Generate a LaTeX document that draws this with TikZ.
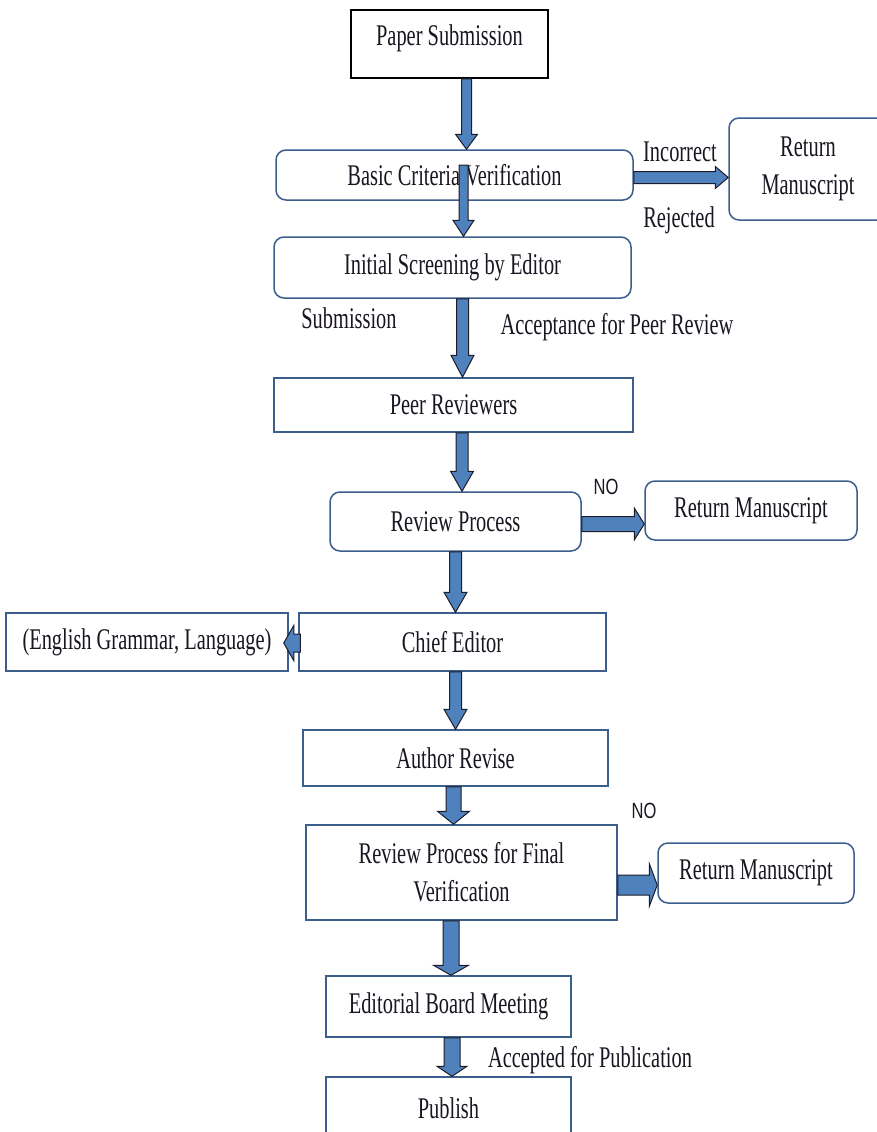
\documentclass[tikz,border=0pt]{standalone}
\usepackage{fontspec}
\setmainfont{Liberation Serif}[FakeStretch=0.68]
\newfontfamily\nofont{Liberation Sans}[FakeStretch=0.75]
\usetikzlibrary{calc}
\definecolor{arrowblue}{HTML}{4F81BD}
\definecolor{boxline}{HTML}{3B5E8C}
\definecolor{arrowline}{HTML}{1C1C2A}
\definecolor{textcol}{HTML}{1A1520}
\tikzset{
  sbox/.style={draw=boxline, line width=1.5pt, rectangle, align=center, inner sep=0pt, text=textcol},
  rbox/.style={sbox, rounded corners=10pt},
  lbl/.style={inner sep=0pt, text=textcol},
  nolbl/.style={inner sep=0pt, text=textcol, font=\nofont\fontsize{22}{24}\selectfont},
  blockarrow/.style={fill=arrowblue, draw=arrowline, line width=1pt, line join=miter},
}
% vertical (downward) block arrow: from, to, shaft width, head width, head length
\newcommand\varrowblk[5]{%
  \draw[blockarrow] let \p1=(#1), \p2=(#2) in
    (\x1-#3/2,\y1) -- (\x1+#3/2,\y1) -- (\x1+#3/2,\y2+#5) -- (\x1+#4/2,\y2+#5)
    -- (\x1,\y2) -- (\x1-#4/2,\y2+#5) -- (\x1-#3/2,\y2+#5) -- cycle;}
% rightward block arrow
\newcommand\rarrowblk[5]{%
  \draw[blockarrow] let \p1=(#1), \p2=(#2) in
    (\x1,\y1+#3/2) -- (\x2-#5,\y1+#3/2) -- (\x2-#5,\y1+#4/2) -- (\x2,\y1)
    -- (\x2-#5,\y1-#4/2) -- (\x2-#5,\y1-#3/2) -- (\x1,\y1-#3/2) -- cycle;}
% leftward block arrow
\newcommand\larrowblk[5]{%
  \draw[blockarrow] let \p1=(#1), \p2=(#2) in
    (\x1,\y1+#3/2) -- (\x2+#5,\y1+#3/2) -- (\x2+#5,\y1+#4/2) -- (\x2,\y1)
    -- (\x2+#5,\y1-#4/2) -- (\x2+#5,\y1-#3/2) -- (\x1,\y1-#3/2) -- cycle;}
\begin{document}
\begin{tikzpicture}[x=1pt, y=-1pt, font=\fontsize{30}{38}\selectfont]
\useasboundingbox[fill=white] (0,0) rectangle (877,1132);

% boxes
\node[sbox, draw=black, minimum width=197pt, minimum height=68pt, text height=19pt, text depth=16pt] (ps) at (449.5,44) {Paper Submission};
\node[rbox, minimum width=357pt, minimum height=50pt] (bcv) at (454.5,175) {Basic Criteria Verification};
\node[rbox, minimum width=158pt, minimum height=102pt] (rm1) at (808,169) {Return\\Manuscript};
\node[rbox, minimum width=357pt, minimum height=61pt] (ise) at (452.5,267.5) {Initial Screening by Editor};
\node[sbox, minimum width=359pt, minimum height=54pt] (pr) at (453.5,405) {Peer Reviewers};
\node[rbox, minimum width=251pt, minimum height=59pt] (rp) at (455.5,521.5) {Review Process};
\node[rbox, minimum width=212pt, minimum height=59pt] (rm2) at (751,510.5) {Return Manuscript};
\node[sbox, minimum width=282pt, minimum height=58pt] (eng) at (147,642) {(English Grammar, Language)};
\node[sbox, minimum width=307pt, minimum height=58pt] (ce) at (452.5,642) {Chief Editor};
\node[sbox, minimum width=305pt, minimum height=56pt] (ar) at (455.5,758) {Author Revise};
\node[sbox, minimum width=311pt, minimum height=95pt] (rpfv) at (461.5,872.5) {Review Process for Final\\Verification};
\node[rbox, minimum width=196pt, minimum height=60pt] (rm3) at (756,873) {Return Manuscript};
\node[sbox, minimum width=245pt, minimum height=61pt] (ebm) at (448.5,1006.5) {Editorial Board Meeting};
\node[sbox, minimum width=245pt, minimum height=63pt] (pub) at (448.5,1108.5) {Publish};

% labels
\node[lbl] (linc) at (680,152) {Incorrect};
\node[lbl] (lrej) at (679,220) {Rejected};
\node[lbl] (lsub) at (349,318) {Submission};
\node[lbl] (lacc) at (617,327) {Acceptance for Peer Review};
\node[nolbl] (lno1) at (606,487) {NO};
\node[nolbl] (lno2) at (644,811) {NO};
\node[lbl] (lpub) at (590,1060) {Accepted for Publication};

% arrows
\varrowblk{[xshift=17pt]ps.south}{bcv.north}{10pt}{22pt}{15pt}
\varrowblk{[xshift=9pt,yshift=10pt]bcv.center}{ise.north}{9pt}{21pt}{16pt}
\varrowblk{[xshift=10pt]ise.south}{pr.north}{12pt}{23pt}{22pt}
\varrowblk{[xshift=8.5pt]pr.south}{rp.north}{12pt}{23pt}{20pt}
\varrowblk{rp.south}{ce.north}{12pt}{23pt}{20pt}
\varrowblk{[xshift=3pt]ce.south}{ar.north}{12pt}{23pt}{20pt}
\varrowblk{[xshift=-2pt]ar.south}{rpfv.north}{15pt}{32pt}{13pt}
\varrowblk{[xshift=-10.5pt]rpfv.south}{ebm.north}{16pt}{35pt}{10pt}
\varrowblk{[xshift=3.5pt]ebm.south}{pub.north}{16pt}{30pt}{10pt}
\rarrowblk{[yshift=-2.5pt]bcv.east}{rm1.west}{12pt}{22pt}{13pt}
\rarrowblk{[yshift=-2.5pt]rp.east}{rm2.west}{15pt}{32pt}{10pt}
\rarrowblk{[yshift=-12.5pt]rpfv.east}{rm3.west}{20pt}{43pt}{8pt}
\larrowblk{[yshift=-1pt,xshift=2pt]ce.west}{[xshift=-5pt]eng.east}{18pt}{35pt}{10pt}
\end{tikzpicture}
\end{document}
